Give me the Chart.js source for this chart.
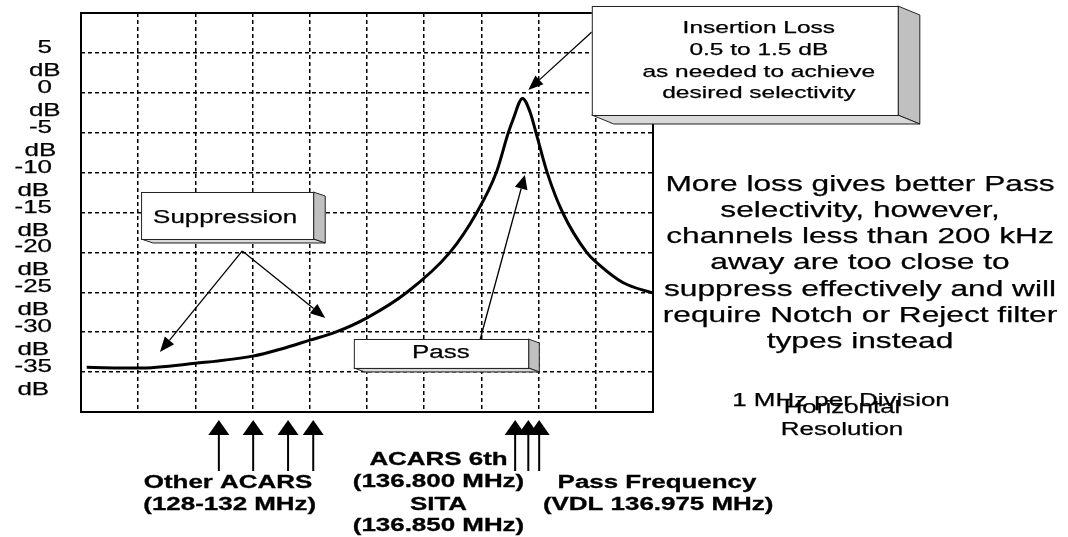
<!DOCTYPE html>
<html>
<head>
<meta charset="utf-8">
<title>Pass filter response</title>
<script src="https://cdn.jsdelivr.net/npm/chart.js@4/dist/chart.umd.min.js"></script>
<style>
  html, body { margin: 0; padding: 0; background: #fff; }
  #wrap { width: 1068px; height: 537px; position: relative; }
</style>
</head>
<body>
<div id="wrap"><canvas id="responseChart"></canvas></div>
<script>
// Filter response, x in divisions (1 MHz per division), y in dB
const freqDiv = [0.1, 1, 2, 3, 3.5, 4, 4.45, 5, 5.7, 6.45, 6.92, 7.26, 7.47, 7.55, 7.72, 7.85, 7.97, 8.15, 8.42, 8.84, 9.02, 9.48, 10];
const responseDb = [-34.4, -34.5, -33.9, -33.0, -32.1, -31.0, -30.0, -28.2, -25.0, -20.0, -15.0, -10.0, -5.0, -3.4, -0.7, -2.4, -5.4, -10.0, -15.0, -20.0, -21.3, -23.8, -25.1];

// Axis ticks
const yTickValues = [5, 0, -5, -10, -15, -20, -25, -30, -35];
const yUnit = 'dB';

// Texts
const noteLines = [
    'More loss gives better Pass',
    'selectivity, however,',
    'channels less than 200 kHz',
    'away are too close to',
    'suppress effectively and will',
    'require Notch or Reject filter',
    'types instead'
];
const insertionLines = ['Insertion Loss', '0.5 to 1.5 dB', 'as needed to achieve', 'desired selectivity'];
const otherAcarsLines = ['Other ACARS', '(128-132 MHz)'];
const acarsSitaLines = ['ACARS 6th', '(136.800 MHz)', 'SITA', '(136.850 MHz)'];
const passFreqLines = ['Pass Frequency', '(VDL 136.975 MHz)'];

const FONT = '"Liberation Sans", Arial, sans-serif';
const SX = 1.44; // the original artwork is stretched horizontally

function stretchText(ctx, s, x, y, font, align, weight) {
    ctx.save();
    ctx.font = font;
    ctx.fillStyle = '#000';
    ctx.strokeStyle = '#000';
    ctx.lineWidth = weight === undefined ? 0.25 : weight;
    ctx.textAlign = align || 'center';
    ctx.textBaseline = 'alphabetic';
    ctx.translate(x, y);
    ctx.scale(SX, 1);
    ctx.fillText(s, 0, 0);
    ctx.strokeText(s, 0, 0);
    ctx.restore();
}

function arrow(ctx, x1, y1, x2, y2, lw, len, half) {
    const a = Math.atan2(y2 - y1, x2 - x1);
    const bx = x2 - Math.cos(a) * len;
    const by = y2 - Math.sin(a) * len;
    ctx.save();
    ctx.strokeStyle = '#000';
    ctx.fillStyle = '#000';
    ctx.lineWidth = lw;
    ctx.beginPath();
    ctx.moveTo(x1, y1);
    ctx.lineTo(bx, by);
    ctx.stroke();
    ctx.beginPath();
    ctx.moveTo(x2, y2);
    ctx.lineTo(bx + Math.sin(a) * half, by - Math.cos(a) * half);
    ctx.lineTo(bx - Math.sin(a) * half, by + Math.cos(a) * half);
    ctx.closePath();
    ctx.fill();
    ctx.restore();
}

function box3d(ctx, x0, y0, x1, y1, dx, dy) {
    ctx.save();
    ctx.strokeStyle = '#222';
    ctx.lineWidth = 1;
    // side
    ctx.fillStyle = '#c0c0c0';
    ctx.beginPath();
    ctx.moveTo(x1, y0); ctx.lineTo(x1 + dx, y0 + dy); ctx.lineTo(x1 + dx, y1 + dy); ctx.lineTo(x1, y1);
    ctx.closePath(); ctx.fill(); ctx.stroke();
    // bottom
    ctx.fillStyle = '#d9d9d9';
    ctx.beginPath();
    ctx.moveTo(x0, y1); ctx.lineTo(x1, y1); ctx.lineTo(x1 + dx, y1 + dy); ctx.lineTo(x0 + dx, y1 + dy);
    ctx.closePath(); ctx.fill(); ctx.stroke();
    // front
    ctx.fillStyle = '#fff';
    ctx.fillRect(x0, y0, x1 - x0, y1 - y0);
    ctx.strokeRect(x0 + 0.5, y0 + 0.5, x1 - x0, y1 - y0);
    ctx.restore();
}

// Callouts, in axis units (divisions, dB)
const callouts = {
    suppression: { box: [1.05, -12.43, 4.06, -18.32], depth: [12, 4], text: 'Suppression', tx: 2.52, ty: -16.32,
        from: [2.82, -19.82], to: [[1.38, -32.48], [4.27, -28.22]] },
    pass: { box: [4.77, -30.85, 7.82, -34.48], depth: [11, 4], text: 'Pass', tx: 6.29, ty: -33.23,
        from: [6.98, -30.85], to: [[7.76, -10.3]] },
    insertion: { box: [8.93, 10.88, 14.28, -2.78], depth: [22, 9], tx: 11.85, ty: [7.49, 4.74, 1.98, -0.65],
        from: [8.93, 7.62], to: [[7.82, 0.35]] }
};
const otherAcarsMarks = [2.41, 3.01, 3.62, 4.06];
const nearMarks = [7.59, 7.82, 8.01];

const schematicPlugin = {
    id: 'schematic',
    afterDraw(chart) {
        const ctx = chart.ctx;
        const xs = chart.scales.x;
        const ys = chart.scales.y;
        const area = chart.chartArea;
        const px = v => xs.getPixelForValue(v);
        const py = v => ys.getPixelForValue(v);

        // frame
        ctx.save();
        ctx.strokeStyle = '#000';
        ctx.lineWidth = 2;
        ctx.strokeRect(area.left, area.top, area.right - area.left, area.bottom - area.top);
        ctx.restore();

        // y tick labels (two lines: value / unit)
        const tickFont = '18px ' + FONT;
        ys.ticks.forEach(t => {
            if (!Array.isArray(t.label)) return;
            const y = py(t.value);
            const right = area.left - 29;
            ctx.save();
            ctx.font = tickFont;
            const w = ctx.measureText(t.label[0]).width * SX;
            ctx.restore();
            stretchText(ctx, t.label[0], right, y, tickFont, 'right');
            stretchText(ctx, t.label[1], right - w / 2, y + 23, tickFont, 'center');
        });

        // suppression
        const s = callouts.suppression;
        box3d(ctx, px(s.box[0]), py(s.box[1]), px(s.box[2]), py(s.box[3]), s.depth[0], s.depth[1]);
        stretchText(ctx, s.text, px(s.tx), py(s.ty), '18px ' + FONT);
        s.to.forEach(p => arrow(ctx, px(s.from[0]), py(s.from[1]), px(p[0]), py(p[1]), 1.3, 15, 6));

        // pass
        const p = callouts.pass;
        box3d(ctx, px(p.box[0]), py(p.box[1]), px(p.box[2]), py(p.box[3]), p.depth[0], p.depth[1]);
        stretchText(ctx, p.text, px(p.tx), py(p.ty), '18px ' + FONT);
        p.to.forEach(q => arrow(ctx, px(p.from[0]), py(p.from[1]), px(q[0]), py(q[1]), 1.3, 14, 6.5));

        // insertion loss
        const ins = callouts.insertion;
        ins.to.forEach(q => arrow(ctx, px(ins.from[0]), py(ins.from[1]), px(q[0]), py(q[1]), 1.3, 15, 6));
        box3d(ctx, px(ins.box[0]), py(ins.box[1]), px(ins.box[2]), py(ins.box[3]), ins.depth[0], ins.depth[1]);
        insertionLines.forEach((l, i) => stretchText(ctx, l, px(ins.tx), py(ins.ty[i]), '17px ' + FONT));

        // channel markers under the axis
        const tip = area.bottom + 8, tail = area.bottom + 59;
        otherAcarsMarks.concat(nearMarks).forEach(v => arrow(ctx, px(v), tail, px(v), tip, 2, 15, 10.5));

        const bold = 'bold 18px ' + FONT;
        stretchText(ctx, otherAcarsLines[0], px(2.57), area.bottom + 76, bold, 'center', 0.3);
        stretchText(ctx, otherAcarsLines[1], px(2.6), area.bottom + 98, bold, 'center', 0.3);
        [53, 75, 98, 119].forEach((dy, i) => stretchText(ctx, acarsSitaLines[i], px(6.25), area.bottom + dy, bold, 'center', 0.3));
        stretchText(ctx, passFreqLines[0], px(10.07), area.bottom + 76, bold, 'center', 0.3);
        stretchText(ctx, passFreqLines[1], px(10.09), area.bottom + 98, bold, 'center', 0.3);

        // notes on the right
        const cx = area.right + 207;
        noteLines.forEach((l, i) => stretchText(ctx, l, cx, 190.5 + i * 26.3, '22px ' + FONT));
        stretchText(ctx, '1 MHz per Division', area.right + 188, 406, '18px ' + FONT);
        stretchText(ctx, 'Horizontal', area.right + 189, 413, '18px ' + FONT);
        stretchText(ctx, 'Resolution', area.right + 189, 435, '18px ' + FONT);
    }
};

new Chart(document.getElementById('responseChart'), {
    type: 'line',
    data: {
        datasets: [{
            label: 'Response',
            data: freqDiv.map((x, i) => ({ x: x, y: responseDb[i] })),
            borderColor: '#000',
            borderWidth: 3,
            pointRadius: 0,
            fill: false,
            cubicInterpolationMode: 'monotone'
        }]
    },
    options: {
        responsive: true,
        maintainAspectRatio: false,
        animation: false,
        layout: { padding: { left: 0, top: 13, right: 415, bottom: 125 } },
        plugins: {
            legend: { display: false },
            tooltip: { enabled: false }
        },
        scales: {
            x: {
                type: 'linear',
                min: 0,
                max: 10,
                ticks: { display: false, stepSize: 1 },
                grid: { color: '#000', lineWidth: 1.5, drawTicks: false },
                border: { display: false, dash: [4, 3] },
                afterFit: s => { s.height = 0; }
            },
            y: {
                min: -40,
                max: 10,
                ticks: {
                    display: false,
                    stepSize: 5,
                    callback: v => yTickValues.includes(v) ? [String(v), yUnit] : ''
                },
                grid: { color: '#000', lineWidth: 1.5, drawTicks: false },
                border: { display: false, dash: [4, 3] },
                afterFit: s => { s.width = 81; }
            }
        }
    },
    plugins: [schematicPlugin]
});
</script>
</body>
</html>
